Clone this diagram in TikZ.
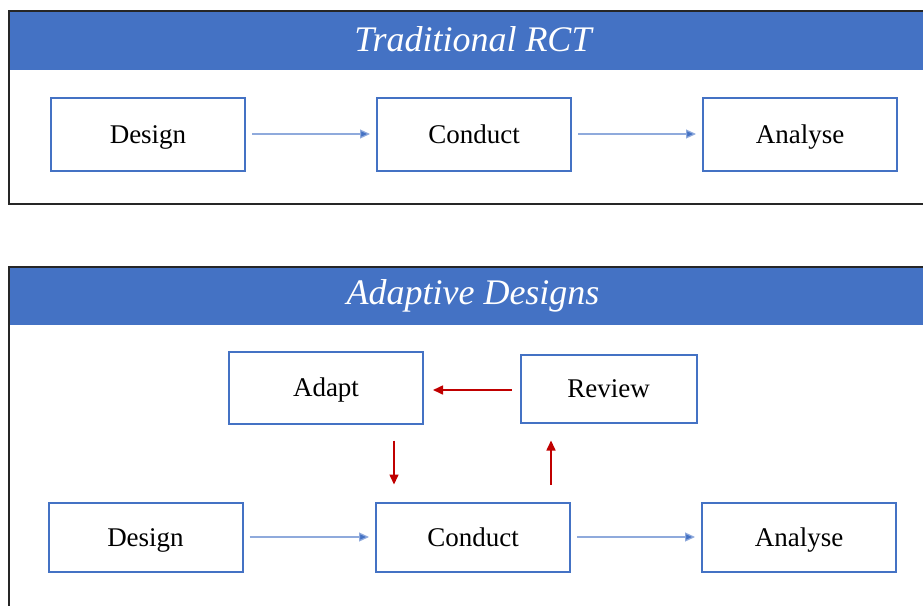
\documentclass[tikz,border=0pt]{standalone}
\usepackage{fontspec}
\setmainfont{Liberation Serif}
\usetikzlibrary{arrows.meta,calc}
\definecolor{hdrblue}{HTML}{4472C4}
\definecolor{linegray}{HTML}{8FAADC}
\definecolor{darkred}{HTML}{C00000}
\tikzset{
  stepbox/.style={draw=hdrblue, line width=2pt, fill=white, minimum width=194pt, minimum height=73pt, inner sep=0pt, text height=22pt, text depth=4pt, font=\fontsize{27}{30}\selectfont},
  frame/.style={draw=black!85, line width=1.6pt},
  header/.style={fill=hdrblue},
  title/.style={text=white, font=\fontsize{36}{40}\selectfont\itshape},
  bluearrow/.style={draw=linegray, line width=1.2pt, -{Triangle[length=10pt,width=9pt,fill=hdrblue]}, shorten <=6pt, shorten >=6pt},
  redarrow/.style={draw=darkred, line width=1.6pt, -{Triangle[length=10pt,width=9pt]}},
}
\begin{document}
\begin{tikzpicture}[x=1pt,y=-1pt]
\useasboundingbox (0,0) rectangle (923,605);
\clip (0,0) rectangle (923,605);
% top frame
\fill[header] (9,11) rectangle (930,70);
\draw[frame] (9,11) rectangle (935,204);
\node[title] (t1) at (473,39) {Traditional RCT};
\node[stepbox] (d1) at (148,134) {Design};
\node[stepbox] (c1) at (474,134) {Conduct};
\node[stepbox] (a1) at (800,134) {Analyse};
\draw[bluearrow] (d1) -- (c1);
\draw[bluearrow] (c1) -- (a1);
% bottom frame
\fill[header] (9,267) rectangle (930,325);
\draw[frame] (9,267) rectangle (935,620);
\node[title] (t2) at (473,296) {Adaptive Designs};
\node[stepbox, minimum height=72pt] (ad) at (326,387.5) {Adapt};
\node[stepbox, minimum width=176pt, minimum height=68pt] (rv) at (608.5,388.5) {Review};
\node[stepbox, minimum height=69pt] (d2) at (145.5,537) {Design};
\node[stepbox, minimum height=69pt] (c2) at (473,537) {Conduct};
\node[stepbox, minimum height=69pt] (a2) at (799,537) {Analyse};
\draw[bluearrow] (d2) -- (c2);
\draw[bluearrow] (c2) -- (a2);
\draw[redarrow, shorten <=8pt, shorten >=9pt] (rv.west |- 0,390) -- (ad.east |- 0,390);
\draw[redarrow, shorten <=16pt, shorten >=17pt] ([xshift=68pt]ad.south) -- ([xshift=-79pt]c2.north);
\draw[redarrow, shorten <=17pt, shorten >=17pt] ([xshift=78pt]c2.north) -- ([xshift=-57.5pt]rv.south);
\end{tikzpicture}
\end{document}
